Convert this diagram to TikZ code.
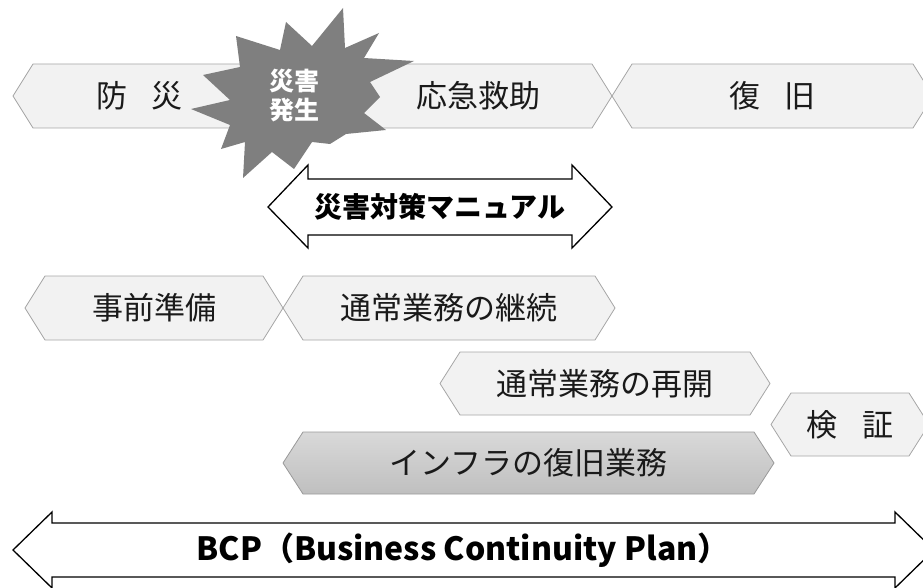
\documentclass[tikz,border=0pt]{standalone}
\usepackage{fontspec}
\setmainfont{Noto Sans CJK JP}
\usepackage{tikz}
\usetikzlibrary{shadings}

\definecolor{boxgray}{HTML}{F2F2F2}
\definecolor{linegray}{HTML}{A6A6A6}
\definecolor{burstgray}{HTML}{7F7F7F}
\definecolor{textblack}{HTML}{1A1A1A}

\begin{document}
\begin{tikzpicture}[x=1pt,y=-1pt]
\tikzset{phase/.style = {draw=linegray,fill=boxgray,line width=0.8pt,line join=miter}}
\tikzset{infraphase/.style = {draw=gray!80,top color=gray!30,bottom color=gray!50,line width=0.8pt}}
\tikzset{phasetext/.style = {text=textblack,font=\fontsize{31}{31}\selectfont,inner sep=0pt}}
\tikzset{bigarrow/.style = {draw=black,fill=white,line width=1.3pt,line join=miter}}
\tikzset{arrowtext/.style = {text=black,inner sep=0pt}}
\useasboundingbox (0,0) rectangle (923,588);

% top row
\draw[phase] (13,96) -- (33,64) -- (246,64) -- (266,96) -- (246,128) -- (33,128) -- cycle;
\draw[phase] (344,96) -- (364,64) -- (592,64) -- (612,96) -- (592,128) -- (364,128) -- cycle;
\draw[phase] (612,96) -- (632,64) -- (913,64) -- (933,96) -- (913,128) -- (632,128) -- cycle;
\node[phasetext] (bosai) at (139.5,96) {防\hspace{.8em}災};
\node[phasetext] (kyujo) at (478,96) {応急救助};
\node[phasetext] (fukkyu) at (772.5,96) {復\hspace{.8em}旧};

% disaster burst
\fill[burstgray] (343,8) -- (345,48) -- (379,33) -- (364,58) -- (414,61) -- (370,82)
  -- (380,97) -- (364,113) -- (386,130) -- (346,134) -- (330,144) -- (312,142)
  -- (294,169) -- (272,152) -- (243,178) -- (245,142) -- (221,149) -- (230,125)
  -- (191,109) -- (230,100) -- (203,75) -- (240,67) -- (236,36) -- (280,50)
  -- (286,22) -- (312,46) -- cycle;
\node[text=white,font=\bfseries\fontsize{25}{29}\selectfont,align=center,inner sep=0pt]
  (hassei) at (294,96) {災害\\発生};

% manual
\draw[bigarrow] (268,207) -- (308,165) -- (308,179) -- (572,179) -- (572,165) -- (612,207)
  -- (572,248) -- (572,235) -- (308,235) -- (308,248) -- cycle;
\node[arrowtext,font=\bfseries\fontsize{28}{28}\selectfont] (manual) at (440,207) {災害対策マニュアル};

% second row
\draw[phase] (25,308) -- (45,276) -- (263,276) -- (283,308) -- (263,340) -- (45,340) -- cycle;
\draw[phase] (283,308) -- (303,276) -- (595,276) -- (615,308) -- (595,340) -- (303,340) -- cycle;
\node[phasetext] (jizen) at (154,308) {事前準備};
\node[phasetext] (keizoku) at (449,308) {通常業務の継続};

\draw[phase] (440,383.5) -- (460,352) -- (750,352) -- (770,383.5) -- (750,415) -- (460,415) -- cycle;
\node[phasetext] (saikai) at (605,383.5) {通常業務の再開};

\draw[phase] (771,424.5) -- (791,393) -- (909,393) -- (929,424.5) -- (909,456) -- (791,456) -- cycle;
\node[phasetext] (kensho) at (850,424.5) {検\hspace{.8em}証};

\draw[infraphase] (283,463) -- (303,432) -- (754,432) -- (774,463) -- (754,494) -- (303,494) -- cycle;
\node[phasetext] (infra) at (528.5,463) {インフラの復旧業務};

% BCP
\draw[bigarrow] (13,550) -- (52,512) -- (52,523) -- (895,523) -- (895,512) -- (934,550)
  -- (895,588) -- (895,577) -- (52,577) -- (52,588) -- cycle;
\node[arrowtext,font=\bfseries\fontsize{32}{32}\selectfont] (bcp) at (463,550) {BCP（Business Continuity Plan）};

\end{tikzpicture}
\end{document}
